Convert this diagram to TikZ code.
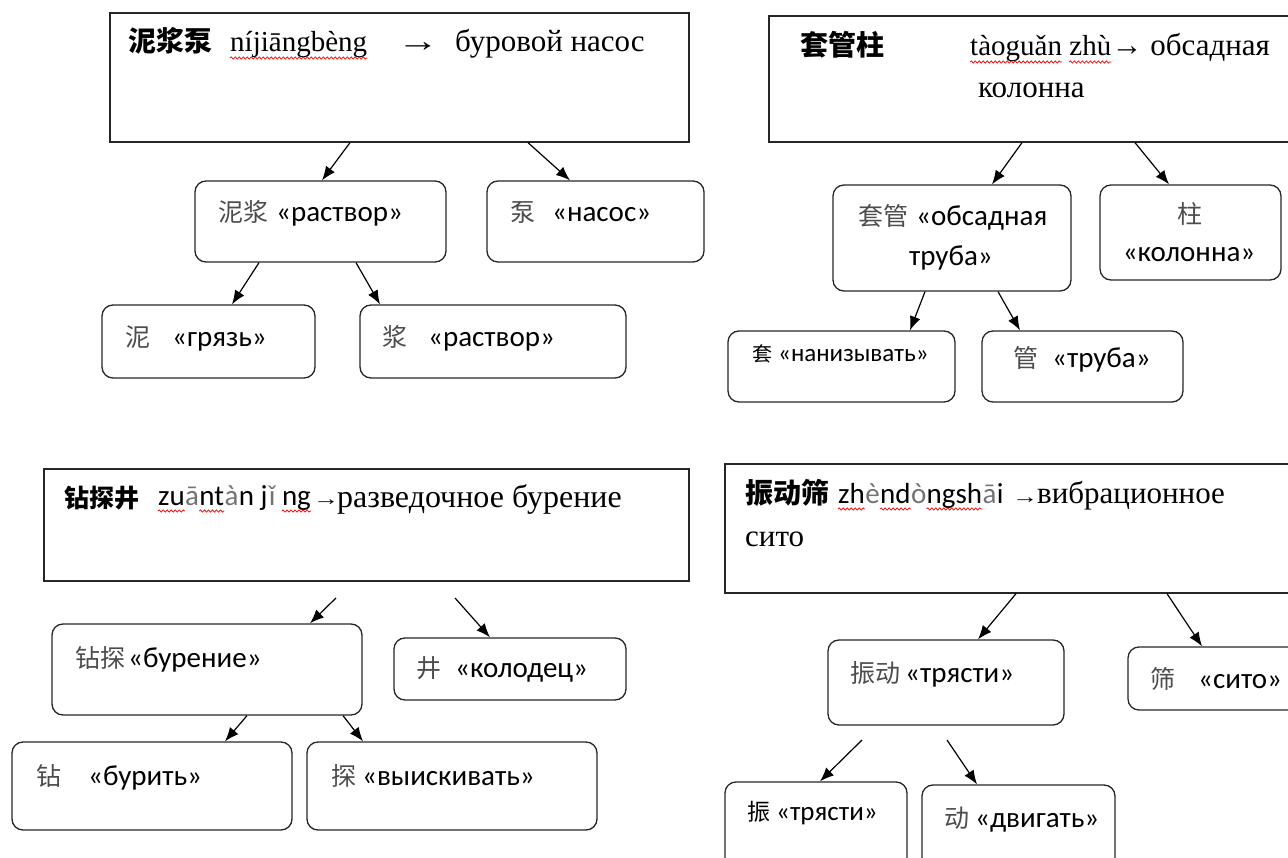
\documentclass[tikz,border=0pt]{standalone}
\usepackage{fontspec}
\usepackage{graphicx}
\setmainfont{Liberation Serif}
\setsansfont{Carlito}
\newfontfamily\cjk{Noto Sans CJK SC}
\usetikzlibrary{arrows.meta,positioning,decorations.pathmorphing}

\newcommand\hz[1]{{\cjk\bfseries #1}}
\newcommand\zh[1]{{\cjk\fontsize{25}{30}\selectfont\color{black!70}#1}}

\begin{document}
\begin{tikzpicture}[x=1pt,y=-1pt,>={Latex[length=14pt,width=11pt]},
  head box/.style={draw=black!85,line width=1.3pt,inner sep=0},
  leaf box/.style={head box,rounded corners=11pt},
  head/.style={inner sep=0,anchor=base west,font=\fontsize{31}{43}\selectfont},
  py/.style={head,font=\fontsize{29}{43}\selectfont},
  pys/.style={head,font=\sffamily\fontsize{29}{43}\selectfont},
  tone/.style={pys,text=black!55},
  leaf/.style={inner sep=0,anchor=base west,font=\sffamily\fontsize{29}{40}\selectfont},
  wavy/.style={red,line width=0.7pt,decorate,decoration={snake,amplitude=1.1pt,segment length=4pt}},
  link/.style={->,line width=1.2pt}]
\clip (0,0) rectangle (1288,858);

% mud pump
\node[head box,minimum width=579pt,minimum height=129pt] (mudpump) at (399.5,77.5) {};
\node[head] (mudpumpZh) at (128,52) {\fontsize{28}{30}\selectfont\hz{泥浆泵}};
\node[py] (mudpumpPy) at (230,52) {níjiāngbèng};
\node[head] (mudpumpAr) at (397,52) {\scalebox{1.35}[1]{→}};
\node[head] (mudpumpRu) at (455,52) {буровой насос};

\node[leaf box,minimum width=251pt,minimum height=81pt] (mud) at (320.5,221.5) {};
\node[leaf] (mudT) at (218,222) {\zh{泥浆}\hspace{8pt}«раствор»};
\node[leaf box,minimum width=217pt,minimum height=81pt] (pump) at (595.5,221.5) {};
\node[leaf] (pumpT) at (510,222) {\zh{泵}\hspace{17pt}«насос»};
\node[leaf box,minimum width=213pt,minimum height=73pt] (ni) at (208.5,341.5) {};
\node[leaf] (niT) at (125,347) {\zh{泥}\hspace{22pt}«грязь»};
\node[leaf box,minimum width=266pt,minimum height=73pt] (jiang) at (493,341.5) {};
\node[leaf] (jiangT) at (382,347) {\zh{浆}\hspace{21pt}«раствор»};

% casing string
\node[head box,minimum width=541pt,minimum height=126pt] (casingcol) at (1039.5,79) {};
\node[head] (casingcolZh) at (800,56) {\fontsize{28}{30}\selectfont\hz{套管柱}};
\node[py] (casingcolPy1) at (970,56) {tàoguǎn};
\node[py,base right=7pt of casingcolPy1] (casingcolPy2) {zhù};
\node[head,base right=0pt of casingcolPy2] (casingcolRu) {→ обсадная};
\node[head] (casingcolRu2) at (978,98) {колонна};

\node[leaf box,minimum width=238pt,minimum height=106pt] (tube) at (952,238) {};
\node[leaf] (tubeT) at (858,226) {\zh{套管}\hspace{8pt}«обсадная};
\node[leaf,anchor=base] (tubeT2) at (951,266) {труба»};
\node[leaf box,minimum width=181pt,minimum height=95pt] (column) at (1190.5,232.5) {};
\node[leaf,anchor=base] (columnT) at (1190,224) {\zh{柱}};
\node[leaf,anchor=base] (columnT2) at (1189,262) {«колонна»};
\node[leaf box,minimum width=227pt,minimum height=71pt] (tao) at (841.5,366.5) {};
\node[leaf,font=\sffamily\fontsize{25}{30}\selectfont] (taoT) at (752,362) {{\cjk\fontsize{20}{24}\selectfont 套}\hspace{6pt}«нанизывать»};
\node[leaf box,minimum width=201pt,minimum height=71pt] (guan) at (1082.5,366.5) {};
\node[leaf] (guanT) at (1013,368) {\zh{管}\hspace{14pt}«труба»};

% exploration well
\node[head box,minimum width=645pt,minimum height=112pt] (drillwell) at (366.5,525) {};
\node[head] (drillwellZh) at (64,507) {\fontsize{25}{30}\selectfont\hz{钻探井}};
\node[pys] (drillwellPy1) at (158,505) {zu};
\node[tone,base right=0pt of drillwellPy1] (drillwellPy2) {ā};
\node[pys,base right=0pt of drillwellPy2] (drillwellPy3) {nt};
\node[tone,base right=0pt of drillwellPy3] (drillwellPy4) {à};
\node[pys,base right=0pt of drillwellPy4] (drillwellPy5) {n j};
\node[tone,base right=1pt of drillwellPy5] (drillwellPy6) {ǐ};
\node[pys,base right=6pt of drillwellPy6] (drillwellPy7) {ng};
\node[head] (drillwellAr) at (313,505) {\fontsize{20}{22}\selectfont\scalebox{1.3}[1]{→}};
\node[head,font=\fontsize{32}{43}\selectfont] (drillwellRu) at (337,507) {разведочное бурение};

\node[leaf box,minimum width=310pt,minimum height=91pt] (drill) at (207,669.5) {};
\node[leaf] (drillT) at (75,667) {\zh{钻探}\hspace{3pt}«бурение»};
\node[leaf box,minimum width=232pt,minimum height=62pt] (well) at (510,669) {};
\node[leaf] (wellT) at (416,677) {\zh{井}\hspace{14pt}«колодец»};
\node[leaf box,minimum width=280pt,minimum height=88pt] (zuan) at (152,786) {};
\node[leaf] (zuanT) at (36,785) {\zh{钻}\hspace{27pt}«бурить»};
\node[leaf box,minimum width=290pt,minimum height=88pt] (tan) at (452,786) {};
\node[leaf] (tanT) at (331,785) {\zh{探}\hspace{6pt}«выискивать»};

% vibrating screen
\node[head box,minimum width=585pt,minimum height=129pt] (shaker) at (1017.5,528.5) {};
\node[head] (shakerZh) at (745,503) {\fontsize{28}{30}\selectfont\hz{振动筛}};
\node[pys] (shakerPy1) at (838,503) {zh};
\node[tone,base right=0pt of shakerPy1] (shakerPy2) {è};
\node[pys,base right=0pt of shakerPy2] (shakerPy3) {nd};
\node[tone,base right=0pt of shakerPy3] (shakerPy4) {ò};
\node[pys,base right=0pt of shakerPy4] (shakerPy5) {ngsh};
\node[tone,base right=0pt of shakerPy5] (shakerPy6) {ā};
\node[pys,base right=0pt of shakerPy6] (shakerPy7) {i};
\node[head] (shakerAr) at (1012,503) {\fontsize{20}{22}\selectfont\scalebox{1.3}[1]{→}};
\node[head] (shakerRu) at (1037,503) {вибрационное};
\node[head] (shakerRu2) at (745,546) {сито};

\node[leaf box,minimum width=236pt,minimum height=85pt] (shake) at (946,682.5) {};
\node[leaf] (shakeT) at (850,682) {\zh{振动}\hspace{5pt}«трясти»};
\node[leaf box,minimum width=182pt,minimum height=63pt] (sieve) at (1219,678.5) {};
\node[leaf] (sieveT) at (1150,688) {\zh{筛}\hspace{23pt}«сито»};
\node[leaf box,minimum width=182pt,minimum height=98pt] (zhen) at (816,831) {};
\node[leaf,font=\sffamily\fontsize{27}{30}\selectfont] (zhenT) at (747,820) {{\cjk\fontsize{23}{26}\selectfont 振}\hspace{6pt}«трясти»};
\node[leaf box,minimum width=193pt,minimum height=95pt] (dong) at (1018.5,832.5) {};
\node[leaf] (dongT) at (944,827) {\zh{动}\hspace{6pt}«двигать»};

% spell-check squiggles
\foreach \p in {mudpumpPy,casingcolPy1,casingcolPy2,drillwellPy1,drillwellPy3,drillwellPy7,shakerPy1,shakerPy3,shakerPy5}
  \draw[wavy] ([yshift=-6pt]\p.base west) -- ([yshift=-6pt]\p.base east);

% arrows
\coordinate (drillwellL) at (336,598);
\coordinate (drillwellR) at (455,598);
\coordinate (shakeL) at (862,740);
\coordinate (shakeR) at (947,740);
\draw[link] (mudpump.south -| 350,0) -- (mud.north -| 322,0);
\draw[link] (mudpump.south -| 528,0) -- (pump.north -| 570,0);
\draw[link] (mud.south -| 259,0) -- (ni.north -| 232,0);
\draw[link] (mud.south -| 356,0) -- (jiang.north -| 380,0);
\draw[link] (casingcol.south -| 1022,0) -- (tube.north -| 992,0);
\draw[link] (casingcol.south -| 1135,0) -- (column.north -| 1169,0);
\draw[link] (tube.south -| 925,0) -- (tao.north -| 910,0);
\draw[link] (tube.south -| 998,0) -- (guan.north -| 1020,0);
\draw[link] (drillwellL) -- (drill.north -| 310,0);
\draw[link] (drillwellR) -- (well.north -| 490,0);
\draw[link] (drill.south -| 247,0) -- (zuan.north -| 225,0);
\draw[link] (drill.south -| 343,0) -- (tan.north -| 363,0);
\draw[link] (shaker.south -| 1016,0) -- (shake.north -| 978,0);
\draw[link] (shaker.south -| 1167,0) -- (sieve.north -| 1202,0);
\draw[link] (shakeL) -- (zhen.north -| 820,0);
\draw[link] (shakeR) -- (dong.north -| 977,0);
\end{tikzpicture}
\end{document}
